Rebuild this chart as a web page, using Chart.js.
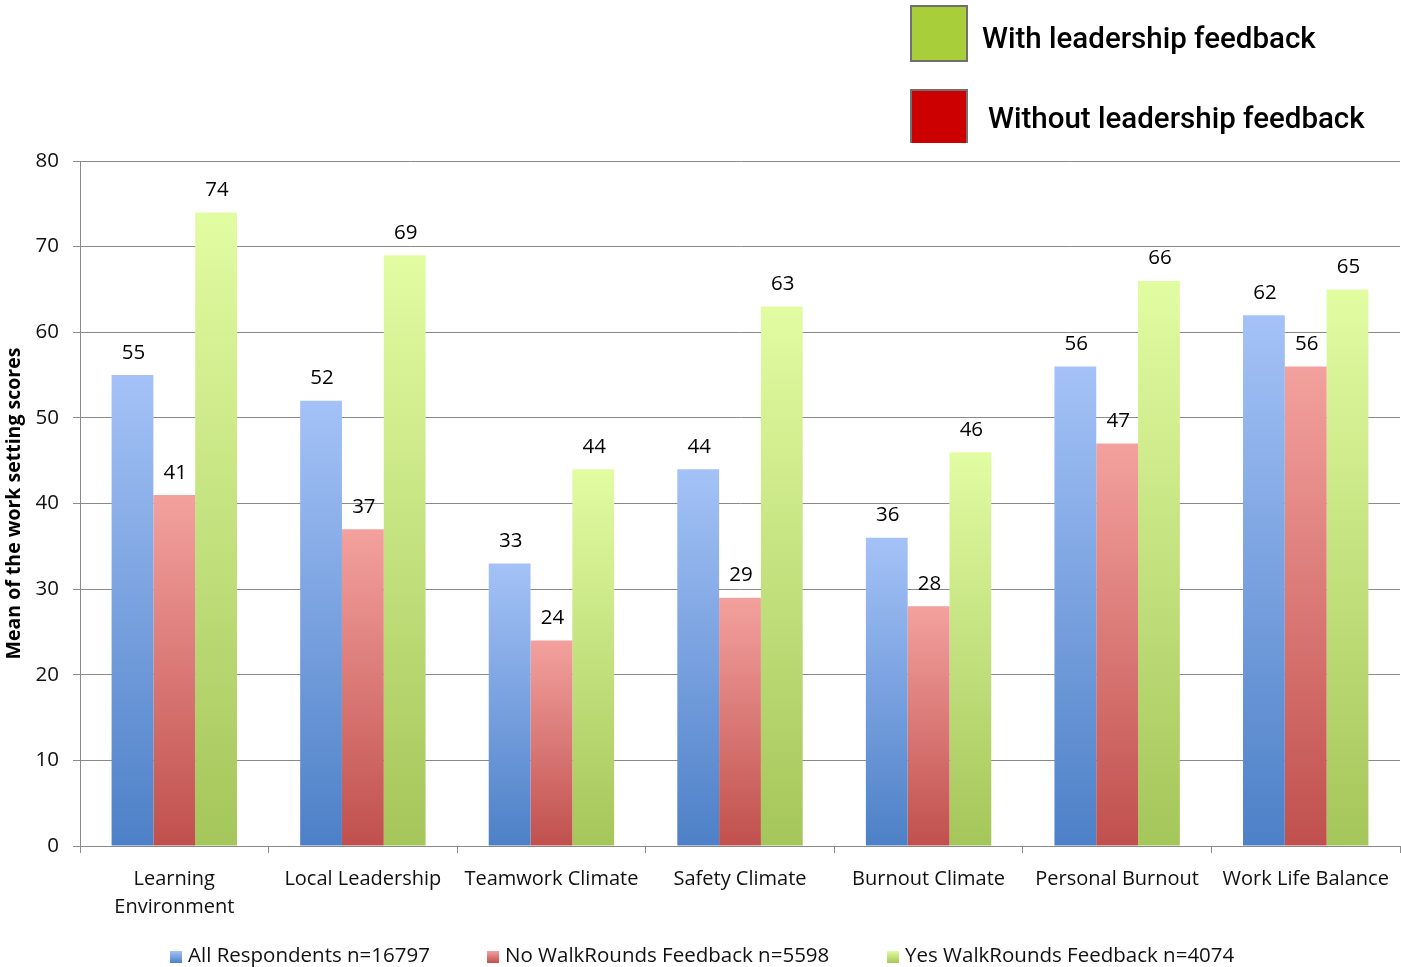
<!DOCTYPE html>
<html>
<head>
<meta charset="utf-8">
<script src="https://cdn.jsdelivr.net/npm/chart.js@4"></script>
<style>
  html, body { margin: 0; padding: 0; background: #fff; }
  #wrap { position: relative; width: 1401px; height: 967px; }
  #myChart { position: absolute; left: 0; top: 0; }
  .topkey { position: absolute; font-family: Roboto, sans-serif; font-weight: 500; font-size: 29.5px; color: #000; }
  .topkey .box { position: absolute; width: 58px; height: 57px; border: 2px solid #707070; box-sizing: border-box; }
  .bottomkey { position: absolute; top: 940px; font-family: "Open Sans", sans-serif; font-size: 20.5px; color: #111; white-space: nowrap; }
  .bottomkey .sq { display: inline-block; width: 12px; height: 12px; margin-right: 6px; vertical-align: -1px; }
</style>
</head>
<body>
<div id="wrap">
  <canvas id="myChart" width="1401" height="967"></canvas>
  <div class="topkey" style="left:910px;top:5px;"><div class="box" style="left:0;top:0;background:#a8cf3a"></div><span style="position:absolute;left:72px;top:16px;white-space:nowrap">With leadership feedback</span></div>
  <div class="topkey" style="left:910px;top:89px;"><div class="box" style="left:0;top:0;height:54px;background:#cc0000;border-bottom:none"></div><span style="position:absolute;left:78px;top:12px;white-space:nowrap">Without leadership feedback</span></div>
  <div id="bottomLegend"></div>
</div>
<script>
var chart = document.getElementById('myChart')

const categories = [
    ['Learning', 'Environment'],
    'Local Leadership',
    'Teamwork Climate',
    'Safety Climate',
    'Burnout Climate',
    'Personal Burnout',
    'Work Life Balance'
];
const all_respondents = [55, 52, 33, 44, 36, 56, 62];
const no_feedback = [41, 37, 24, 29, 28, 47, 56];
const yes_feedback = [74, 69, 44, 63, 46, 66, 65];
const series_names = ['All Respondents n=16797', 'No WalkRounds Feedback n=5598', 'Yes WalkRounds Feedback n=4074'];
const y_ticks = [0, 10, 20, 30, 40, 50, 60, 70, 80];

// light (top) and dark (base) colours of each series
const gradients = [
    ['#a4c2f7', '#4d80c7'],
    ['#f3a19e', '#c0504d'],
    ['#e2fca2', '#a5c65a'],
];

function barGradient(index) {
    return (context) => {
        const c = context.chart;
        if (!c.chartArea) return gradients[index][1];
        const y = c.scales.y;
        const top = y.getPixelForValue(context.raw || 0);
        const bottom = y.getPixelForValue(0);
        const g = c.ctx.createLinearGradient(0, top, 0, bottom);
        g.addColorStop(0, gradients[index][0]);
        g.addColorStop(1, gradients[index][1]);
        return g;
    };
}

function makeDataset(label, values, index) {
    return {
        label: label,
        data: values,
        backgroundColor: barGradient(index),
        borderWidth: 0,
        categoryPercentage: 0.665,
        barPercentage: 1.0,
    }
}

// value written above each bar
const valueLabels = {
    id: 'valueLabels',
    afterDatasetsDraw(c) {
        const ctx = c.ctx;
        ctx.save();
        ctx.font = '20.5px "Open Sans", sans-serif';
        ctx.fillStyle = '#000';
        ctx.textAlign = 'center';
        ctx.textBaseline = 'bottom';
        c.data.datasets.forEach((ds, i) => {
            c.getDatasetMeta(i).data.forEach((bar, j) => {
                ctx.fillText(String(ds.data[j]), bar.x + 1, bar.y - 12);
            });
        });
        ctx.restore();
    }
};

function buildBottomLegend() {
    const holder = document.getElementById('bottomLegend');
    const lefts = [170, 487, 887];
    series_names.forEach((name, i) => {
        const d = document.createElement('div');
        d.className = 'bottomkey';
        d.style.left = lefts[i] + 'px';
        d.innerHTML = '<span class="sq" style="background:linear-gradient(' +
            gradients[i][0] + ',' + gradients[i][1] + ')"></span>' + name;
        holder.appendChild(d);
    });
}

function generate_chart() {
    var ctx = chart.getContext('2d');
    new Chart(ctx, {
        type: 'bar',
        data: {
            labels: categories,
            datasets: [
                makeDataset(series_names[0], all_respondents, 0),
                makeDataset(series_names[1], no_feedback, 1),
                makeDataset(series_names[2], yes_feedback, 2),
            ]
        },
        options: {
            responsive: false,
            animation: false,
            layout: { padding: { top: 161, right: 1, left: 0, bottom: 0 } },
            plugins: {
                legend: { display: false },
                tooltip: { enabled: false },
            },
            scales: {
                x: {
                    afterFit: (scale) => { scale.height = 121; },
                    grid: { display: true, drawOnChartArea: false, drawTicks: true, tickLength: 7, color: '#8a8a8a', offset: true },
                    border: { color: '#8a8a8a', width: 1 },
                    ticks: {
                        color: '#111',
                        font: { family: '"Open Sans", sans-serif', size: 20, lineHeight: 1.4 },
                        padding: 12,
                        maxRotation: 0,
                        autoSkip: false,
                    },
                },
                y: {
                    min: 0,
                    max: 80,
                    afterFit: (scale) => { scale.width = 80; },
                    afterBuildTicks: (scale) => { scale.ticks = y_ticks.map(v => ({ value: v })); },
                    grid: { color: '#8a8a8a', tickLength: 7 },
                    border: { color: '#8a8a8a', width: 1 },
                    ticks: {
                        color: '#111',
                        font: { family: '"Open Sans", sans-serif', size: 20.5 },
                        padding: 14,
                    },
                    title: {
                        display: true,
                        text: 'Mean of the work setting scores',
                        color: '#000',
                        font: { family: '"Open Sans", sans-serif', size: 19.5, weight: 'bold' },
                        padding: { top: 3, bottom: 0 },
                    },
                },
            },
        },
        plugins: [valueLabels],
    });
    buildBottomLegend();
}

if (chart) {
    generate_chart();
}
</script>
</body>
</html>
